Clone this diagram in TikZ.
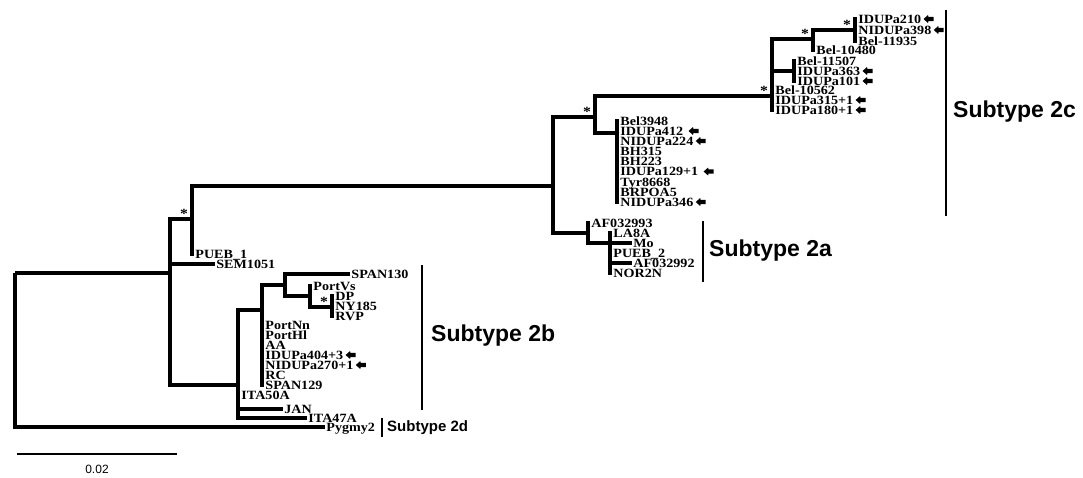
\documentclass[tikz,border=0pt]{standalone}
\usepackage{fontspec}
\newfontfamily\treefont{Liberation Serif Bold}[FakeStretch=1.12]
\newfontfamily\subtfont{Liberation Sans}
\begin{document}
\begin{tikzpicture}[x=1pt,y=-1pt,
  tree/.style={line width=3.8pt,line join=miter,line cap=butt},
  leaf/.style={anchor=west,inner xsep=1.2pt,inner ysep=0pt,text height=8.3pt,text depth=0pt,
    font=\treefont\fontsize{12.6}{12.6}\selectfont},
  starmark/.style={inner sep=0pt,font=\treefont\fontsize{14}{14}\selectfont},
  cladebar/.style={line width=2.6pt},
  subt/.style={anchor=west,inner sep=0pt,font=\subtfont\bfseries\fontsize{23}{23}\selectfont},
  larr/.pic={\fill (0,0) -- (4.5,-4) -- (4.8,-2.2) -- (10,-2.2) -- (10,2.2) -- (4.8,2.2) -- (4.5,4) -- cycle;}
]
\useasboundingbox (0,0) rectangle (1083,477);
\fill[white] (0,0) rectangle (1083,477);
% internal nodes
\coordinate (R) at (15,273);
\coordinate (A) at (170,273);
\coordinate (B) at (192,219);
\coordinate (H) at (553,186);
\coordinate (K) at (595,117);
\coordinate (L) at (772,96);
\coordinate (M) at (813,39);
\coordinate (N) at (855,30);
\coordinate (O) at (794,71);
\coordinate (P) at (617,133);
\coordinate (I) at (588,233);
\coordinate (J) at (610,243);
\coordinate (C) at (238,385);
\coordinate (D) at (262,310);
\coordinate (E) at (285,285);
\coordinate (F) at (310,296);
\coordinate (G) at (332,307);
% leaves
\node[leaf] (n1) at (857,19) {IDUPa210};
\node[leaf] (n2) at (857,30) {NIDUPa398};
\node[leaf] (n3) at (857,41) {Bel-11935};
\node[leaf] (m1) at (815,50) {Bel-10480};
\node[leaf] (o1) at (796,61) {Bel-11507};
\node[leaf] (o2) at (796,71) {IDUPa363};
\node[leaf] (o3) at (796,81) {IDUPa101};
\node[leaf] (l1) at (774,90) {Bel-10562};
\node[leaf] (l2) at (774,100) {IDUPa315+1};
\node[leaf] (l3) at (774,110) {IDUPa180+1};
\node[leaf] (p1) at (619,121) {Bel3948};
\node[leaf] (p2) at (619,131) {IDUPa412};
\node[leaf] (p3) at (619,141) {NIDUPa224};
\node[leaf] (p4) at (619,151) {BH315};
\node[leaf] (p5) at (619,161) {BH223};
\node[leaf] (p6) at (619,171.5) {IDUPa129+1};
\node[leaf] (p7) at (619,182) {Tyr8668};
\node[leaf] (p8) at (619,192) {BRPOA5};
\node[leaf] (p9) at (619,202) {NIDUPa346};
\node[leaf] (i1) at (590,223) {AF032993};
\node[leaf] (j1) at (612,233) {LA8A};
\node[leaf] (j2) at (632,243) {Mo};
\node[leaf] (j3) at (612,253) {PUEB\_2};
\node[leaf] (j4) at (632,263) {AF032992};
\node[leaf] (j5) at (612,273) {NOR2N};
\node[leaf] (b1) at (194,254) {PUEB\_1};
\node[leaf] (a1) at (215,264) {SEM1051};
\node[leaf] (c1) at (240,395) {ITA50A};
\node[leaf] (c2) at (283,409) {JAN};
\node[leaf] (c3) at (307,418) {ITA47A};
\node[leaf] (d1) at (264,325) {PortNn};
\node[leaf] (d2) at (264,335) {PortHl};
\node[leaf] (d3) at (264,345) {AA};
\node[leaf] (d4) at (264,355) {IDUPa404+3};
\node[leaf] (d5) at (264,365) {NIDUPa270+1};
\node[leaf] (d6) at (264,375) {RC};
\node[leaf] (d7) at (264,385) {SPAN129};
\node[leaf] (e1) at (350,274) {SPAN130};
\node[leaf] (f1) at (312,286) {PortVs};
\node[leaf] (g1) at (334,296) {DP};
\node[leaf] (g2) at (334,306) {NY185};
\node[leaf] (g3) at (334,316) {RVP};
\node[leaf] (r1) at (325,427) {Pygmy2};
% branches
\foreach \p/\c in {R/A,R/r1.west,A/B,A/a1.west,A/C,B/H,B/b1.west,H/K,H/I,K/L,K/P,
  L/M,L/O,L/l1.west,L/l2.west,L/l3.west,M/N,M/m1.west,N/n1.west,N/n2.west,N/n3.west,
  O/o1.west,O/o2.west,O/o3.west,
  P/p1.west,P/p2.west,P/p3.west,P/p4.west,P/p5.west,P/p6.west,P/p7.west,P/p8.west,P/p9.west,
  I/i1.west,I/J,J/j1.west,J/j2.west,J/j3.west,J/j4.west,J/j5.west,
  C/D,C/c1.west,C/c2.west,C/c3.west,
  D/E,D/d1.west,D/d2.west,D/d3.west,D/d4.west,D/d5.west,D/d6.west,D/d7.west,
  E/e1.west,E/F,F/f1.west,F/G,G/g1.west,G/g2.west,G/g3.west}
  \draw[tree] (\p) |- (\c);
% arrows marking IDU sequences
\foreach \n in {n1,n2,o2,o3,l2,l3,p3,p9,d4,d5}
  \pic at ([xshift=1pt]\n.east) {larr};
\foreach \n in {p2,p6}
  \pic at ([xshift=4pt]\n.east) {larr};
% bootstrap stars
\foreach \n in {B,K,L,M,N,G}
  \node[starmark] (s\n) at ([shift={(-8,-5)}]\n) {*};
% clade bars
\draw[cladebar] (946,10) -- (946,216);
\node[subt] (t2c) at (953,112) {Subtype 2c};
\draw[cladebar] (703,221) -- (703,282);
\node[subt] (t2a) at (709,251) {Subtype 2a};
\draw[cladebar] (422,265) -- (422,410);
\node[subt] (t2b) at (431,336) {Subtype 2b};
\draw[cladebar] (382,418) -- (382,437);
\node[anchor=west,inner sep=0pt,font=\subtfont\bfseries\fontsize{15}{15}\selectfont] (t2d) at (387,428) {Subtype 2d};
% scale bar
\coordinate (sbl) at (17,454);
\coordinate (sbr) at (177,454);
\draw[line width=1.5pt] (sbl) -- (sbr);
\node[inner sep=0pt,font=\subtfont\fontsize{12}{12}\selectfont] (sbt) at (97,469) {0.02};
\end{tikzpicture}
\end{document}
